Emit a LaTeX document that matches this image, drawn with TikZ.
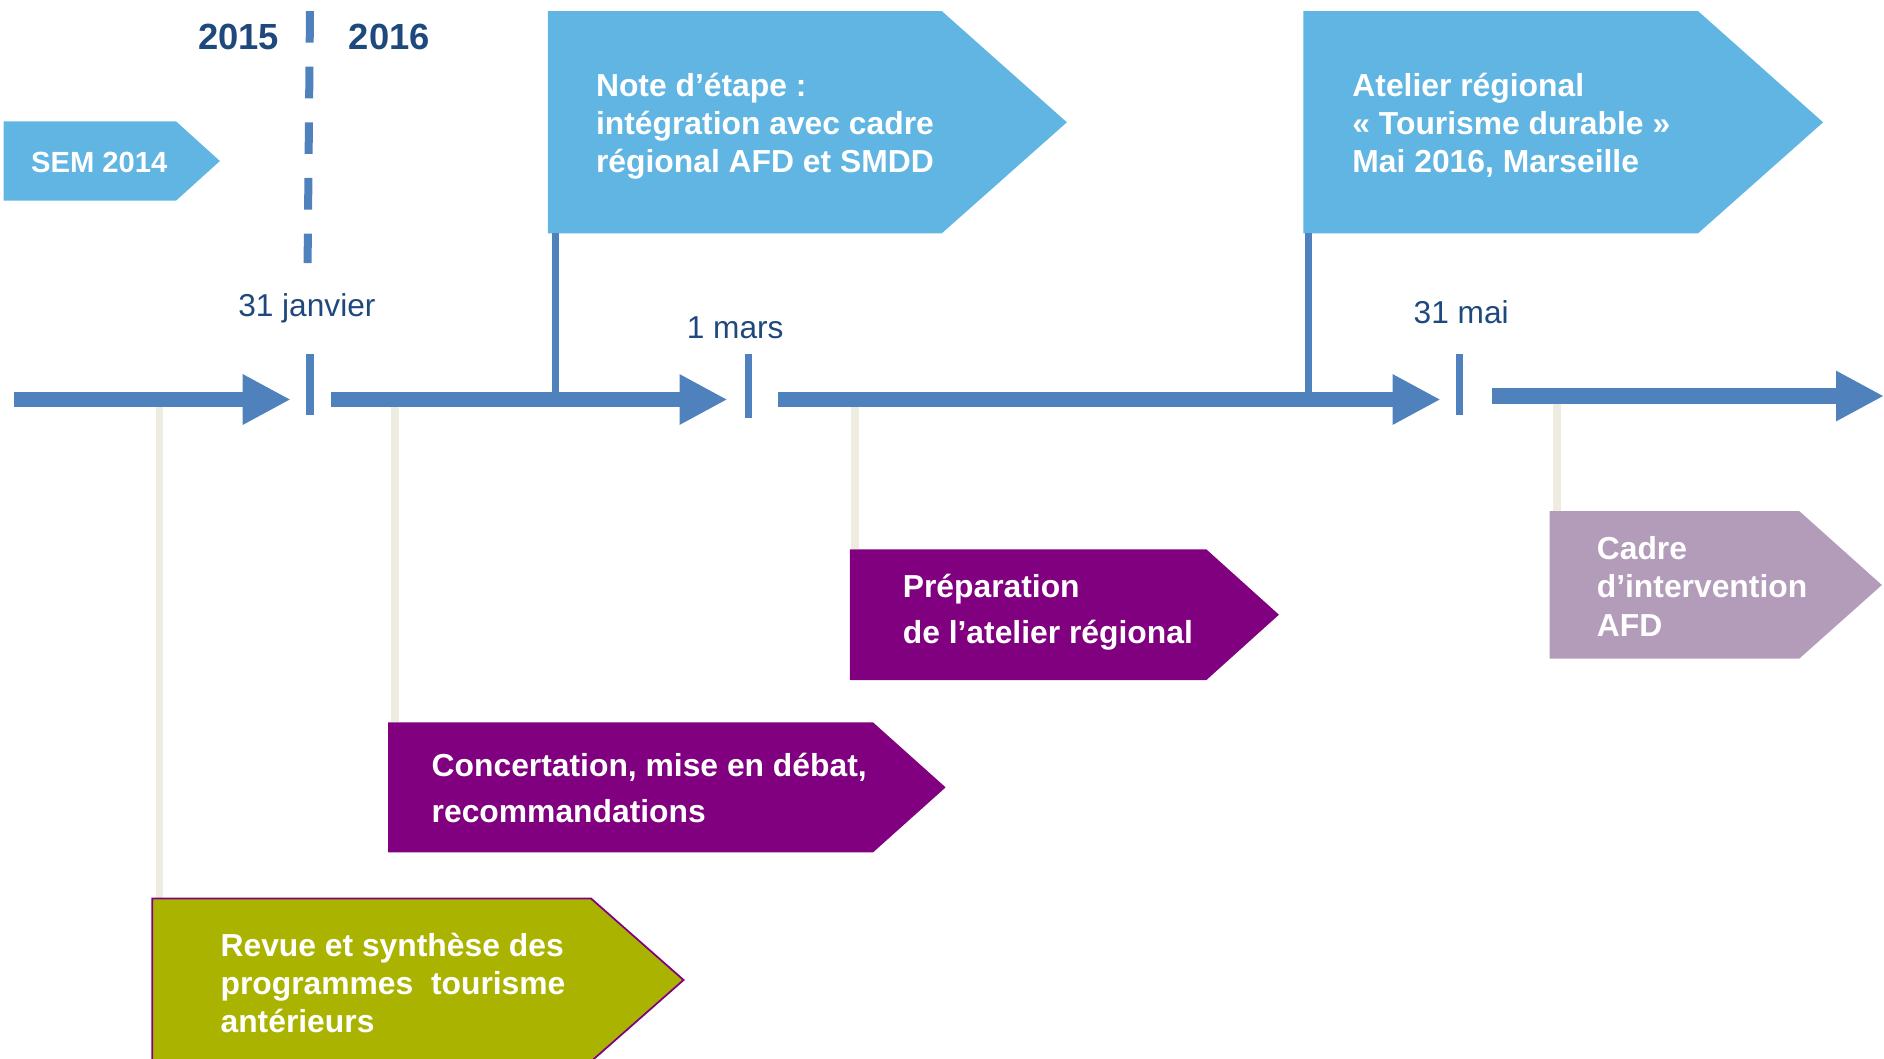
\documentclass[tikz,border=0pt]{standalone}
\usepackage{fontspec}
\setmainfont{Liberation Sans}
\usetikzlibrary{arrows.meta}
\definecolor{skyb}{HTML}{60B5E3}
\definecolor{lineb}{HTML}{4F81BD}
\definecolor{darkb}{HTML}{1F497D}
\definecolor{purp}{HTML}{800080}
\definecolor{olivegreen}{HTML}{AAB400}
\definecolor{lilac}{HTML}{B39CBA}
\definecolor{beige}{HTML}{EEECE1}
\newcommand\mlines[1]{\begin{tabular}[t]{@{}l@{}}#1\end{tabular}}
\tikzset{
  boxtext/.style={anchor=base west, inner sep=0pt, text=white, font=\bfseries\fontsize{9.05}{10.85}\selectfont},
  widetext/.style={boxtext, font=\bfseries\fontsize{9.05}{13}\selectfont},
  yeartext/.style={anchor=base west, inner sep=0pt, text=darkb, font=\bfseries\fontsize{10.35}{12}\selectfont},
  datetext/.style={anchor=base west, inner sep=0pt, text=darkb, font=\fontsize{9.0}{11}\selectfont},
  tlarrow/.style={draw=lineb, line width=0.156cm, -{Triangle[length=0.48cm,width=0.47cm]}},
  tick/.style={draw=lineb, line width=0.078cm},
  bluecon/.style={draw=lineb, line width=0.072cm},
  beigecon/.style={draw=beige, line width=0.076cm},
  yearsep/.style={draw=lineb, line width=0.08cm, dash pattern=on 0.316cm off 0.24cm},
}
\begin{document}
\begin{tikzpicture}[x=0.012015cm, y=-0.012015cm]
\useasboundingbox (0,0) rectangle (1568,881);

% anchor points on the time line and on the boxes
\coordinate (b1top) at (132.6,339);   \coordinate (b1bot) at (132.6,747.7);
\coordinate (b2top) at (328.6,339);   \coordinate (b2bot) at (328.6,601.2);
\coordinate (b3top) at (711.8,339);   \coordinate (b3bot) at (711.8,457.2);
\coordinate (b4top) at (1296,336);    \coordinate (b4bot) at (1296,425.3);
\coordinate (n1box) at (462,194.2);   \coordinate (n1line) at (462,329);
\coordinate (n2box) at (1088.7,194.2);\coordinate (n2line) at (1088.7,329);

% beige connectors
\draw[beigecon] (b1top) -- (b1bot);
\draw[beigecon] (b2top) -- (b2bot);
\draw[beigecon] (b3top) -- (b3bot);
\draw[beigecon] (b4top) -- (b4bot);

% boxes
\fill[skyb] (3,101) -- (146.5,101) -- (183,134) -- (146.5,167) -- (3,167) -- cycle;
\fill[skyb] (456,9.2) -- (783.8,9.2) -- (887.9,101.8) -- (783.8,194.2) -- (456,194.2) -- cycle;
\fill[skyb] (1084.7,9.2) -- (1413.2,9.2) -- (1517.3,101.8) -- (1413.2,194.2) -- (1084.7,194.2) -- cycle;
\fill[purp] (707.4,457.2) -- (1004,457.2) -- (1064.4,511.6) -- (1004,566) -- (707.4,566) -- cycle;
\fill[purp] (323.1,601.2) -- (726.6,601.2) -- (787,655.3) -- (726.6,709.4) -- (323.1,709.4) -- cycle;
\filldraw[fill=olivegreen, draw=purp, line width=0.5pt] (126.8,747.7) -- (491.8,747.7) -- (568.9,815.6) -- (491.8,883.5) -- (126.8,883.5) -- cycle;
\fill[lilac] (1289.7,425.3) -- (1497.4,425.3) -- (1566.2,486.9) -- (1497.4,548.2) -- (1289.7,548.2) -- cycle;

% blue connectors
\draw[bluecon] (n1box) -- (n1line);
\draw[bluecon] (n2box) -- (n2line);

% year separator
\coordinate (sepTop) at (258,9.2);
\coordinate (sepBot) at (256,219);
\draw[yearsep] (sepTop) -- (sepBot);

% time line
\coordinate (a1s) at (11.3,332.5);   \coordinate (a1e) at (242,332.5);
\coordinate (a2s) at (275.6,332.5);  \coordinate (a2e) at (605.5,332.5);
\coordinate (a3s) at (647.7,332.5);  \coordinate (a3e) at (1199,332.5);
\coordinate (a4s) at (1241.7,329.6); \coordinate (a4e) at (1568,329.6);
\draw[tlarrow] (a1s) -- (a1e);
\draw[tlarrow] (a2s) -- (a2e);
\draw[tlarrow] (a3s) -- (a3e);
\draw[tlarrow] (a4s) -- (a4e);

% ticks
\coordinate (t1a) at (258,295);   \coordinate (t1b) at (258,345);
\coordinate (t2a) at (623,295);   \coordinate (t2b) at (623,347.5);
\coordinate (t3a) at (1214.6,295);\coordinate (t3b) at (1214.6,345);
\draw[tick] (t1a) -- (t1b);
\draw[tick] (t2a) -- (t2b);
\draw[tick] (t3a) -- (t3b);

% texts
\node[yeartext] (y2015) at (164.4,41.6) {2015};
\node[yeartext] (y2016) at (289.8,41.6) {2016};
\node[datetext] (d1) at (197.7,263.8) {31 janvier};
\node[datetext] (d2) at (571,281.6) {1 mars};
\node[datetext] (d3) at (1176,269.5) {31 mai};

\node[boxtext, font=\bfseries\fontsize{8.3}{10}\selectfont] (sem) at (25.3,143.4) {SEM 2014};
\node[boxtext] (note) at (495.5,80) {\mlines{Note d’étape :\\intégration avec cadre\\régional AFD et SMDD}};
\node[boxtext] (atelier) at (1125,80) {\mlines{Atelier régional\\« Tourisme durable »\\Mai 2016, Marseille}};
\node[widetext] (prep) at (750.8,497.4) {\mlines{Préparation\\de l’atelier régional}};
\node[widetext] (conc) at (358.7,646.2) {\mlines{Concertation, mise en débat,\\recommandations}};
\node[boxtext] (revue) at (183,795.7) {\mlines{Revue et synthèse des\\programmes\ \ tourisme\\antérieurs}};
\node[boxtext, font=\bfseries\fontsize{9.05}{10.94}\selectfont] (cadre) at (1328.4,465.3) {\mlines{Cadre\\d’intervention\\AFD}};
\end{tikzpicture}
\end{document}
